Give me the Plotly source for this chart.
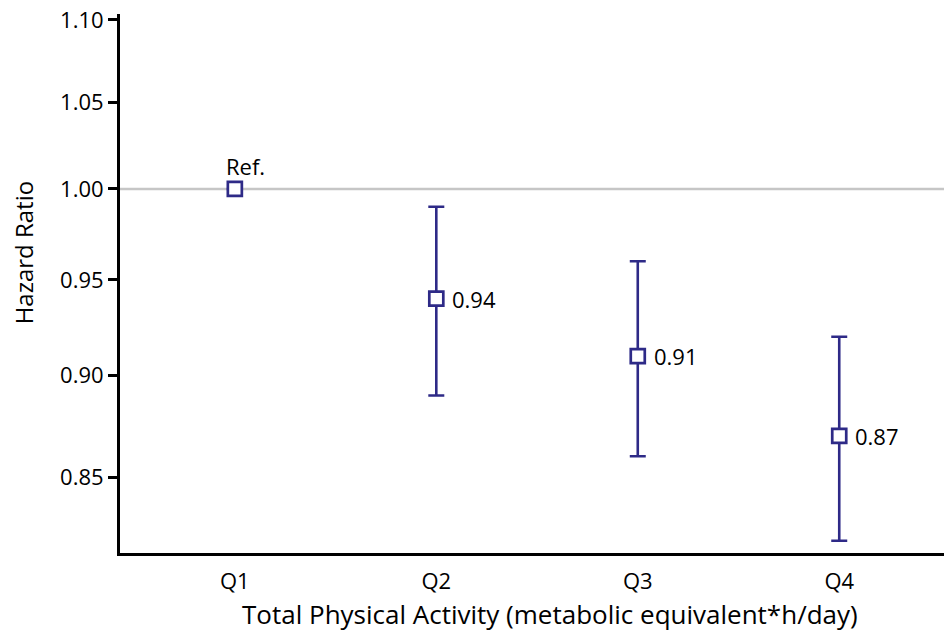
import math
import plotly.graph_objects as go

# Hazard ratios by quartile of total physical activity
quartiles = ["Q1", "Q2", "Q3", "Q4"]
hazard_ratio = [1.00, 0.94, 0.91, 0.87]
ci_lower = [None, 0.89, 0.86, 0.82]
ci_upper = [None, 0.99, 0.96, 0.92]
value_labels = ["Ref.", "0.94", "0.91", "0.87"]

y_ticks = [0.85, 0.90, 0.95, 1.00, 1.05, 1.10]
y_tick_text = ["0.85", "0.90", "0.95", "1.00", "1.05", "1.10"]

navy = "#2E2A87"
font_family = "Open Sans, sans-serif"

x_pos = list(range(len(quartiles)))
err_plus = [0 if u is None else u - h for u, h in zip(ci_upper, hazard_ratio)]
err_minus = [0 if l is None else h - l for l, h in zip(ci_lower, hazard_ratio)]

fig = go.Figure()

# reference line at HR = 1
fig.add_shape(type="line", xref="paper", x0=0, x1=1, yref="y", y0=1.0, y1=1.0,
              line=dict(color="#C6C6C6", width=2.5), layer="below")

fig.add_trace(go.Scatter(
    x=x_pos,
    y=hazard_ratio,
    mode="markers",
    marker=dict(symbol="square", size=14, color="white",
                line=dict(color=navy, width=2.7)),
    error_y=dict(type="data", symmetric=False, array=err_plus, arrayminus=err_minus,
                 color=navy, thickness=2.6, width=8),
    showlegend=False,
    hoverinfo="skip",
))

# value labels (annotation y on a log axis is given in log10 units)
for i, (h, lab) in enumerate(zip(hazard_ratio, value_labels)):
    if lab == "Ref.":
        fig.add_annotation(x=i, y=math.log10(h), text=lab, showarrow=False, xanchor="center",
                           yanchor="bottom", xshift=11, yshift=6,
                           font=dict(family=font_family, size=22, color="black"))
    else:
        fig.add_annotation(x=i, y=math.log10(h), text=lab, showarrow=False, xanchor="left",
                           yanchor="middle", xshift=14,
                           font=dict(family=font_family, size=22, color="black"))

# axis titles
fig.add_annotation(xref="paper", yref="paper", x=0.522, y=-0.113,
                   text="Total Physical Activity (metabolic equivalent*h/day)",
                   showarrow=False, xanchor="center", yanchor="middle",
                   font=dict(family=font_family, size=26, color="black"))
fig.add_annotation(xref="paper", yref="paper", x=-0.117, y=0.557, text="Hazard Ratio",
                   showarrow=False, xanchor="center", yanchor="middle", textangle=-90,
                   font=dict(family=font_family, size=24, color="black"))

fig.update_xaxes(
    tickmode="array", tickvals=x_pos, ticktext=quartiles,
    range=[-0.57, 3.52],
    showgrid=False, zeroline=False,
    showline=True, linecolor="black", linewidth=3,
    ticks="", ticklabelstandoff=7,
    tickfont=dict(family=font_family, size=22, color="black"),
)
fig.update_yaxes(
    type="log",
    range=[-0.0892, 0.04286],
    tickmode="array", tickvals=y_ticks, ticktext=y_tick_text,
    showgrid=False, zeroline=False,
    showline=True, linecolor="black", linewidth=3,
    ticks="outside", ticklen=9, tickwidth=3, tickcolor="black",
    tickfont=dict(family=font_family, size=22, color="black"),
)

fig.update_layout(
    width=944, height=637,
    margin=dict(l=120, r=0, t=14, b=84),
    plot_bgcolor="white", paper_bgcolor="white",
    font=dict(family=font_family, color="black"),
)

fig.write_html("out.html")
